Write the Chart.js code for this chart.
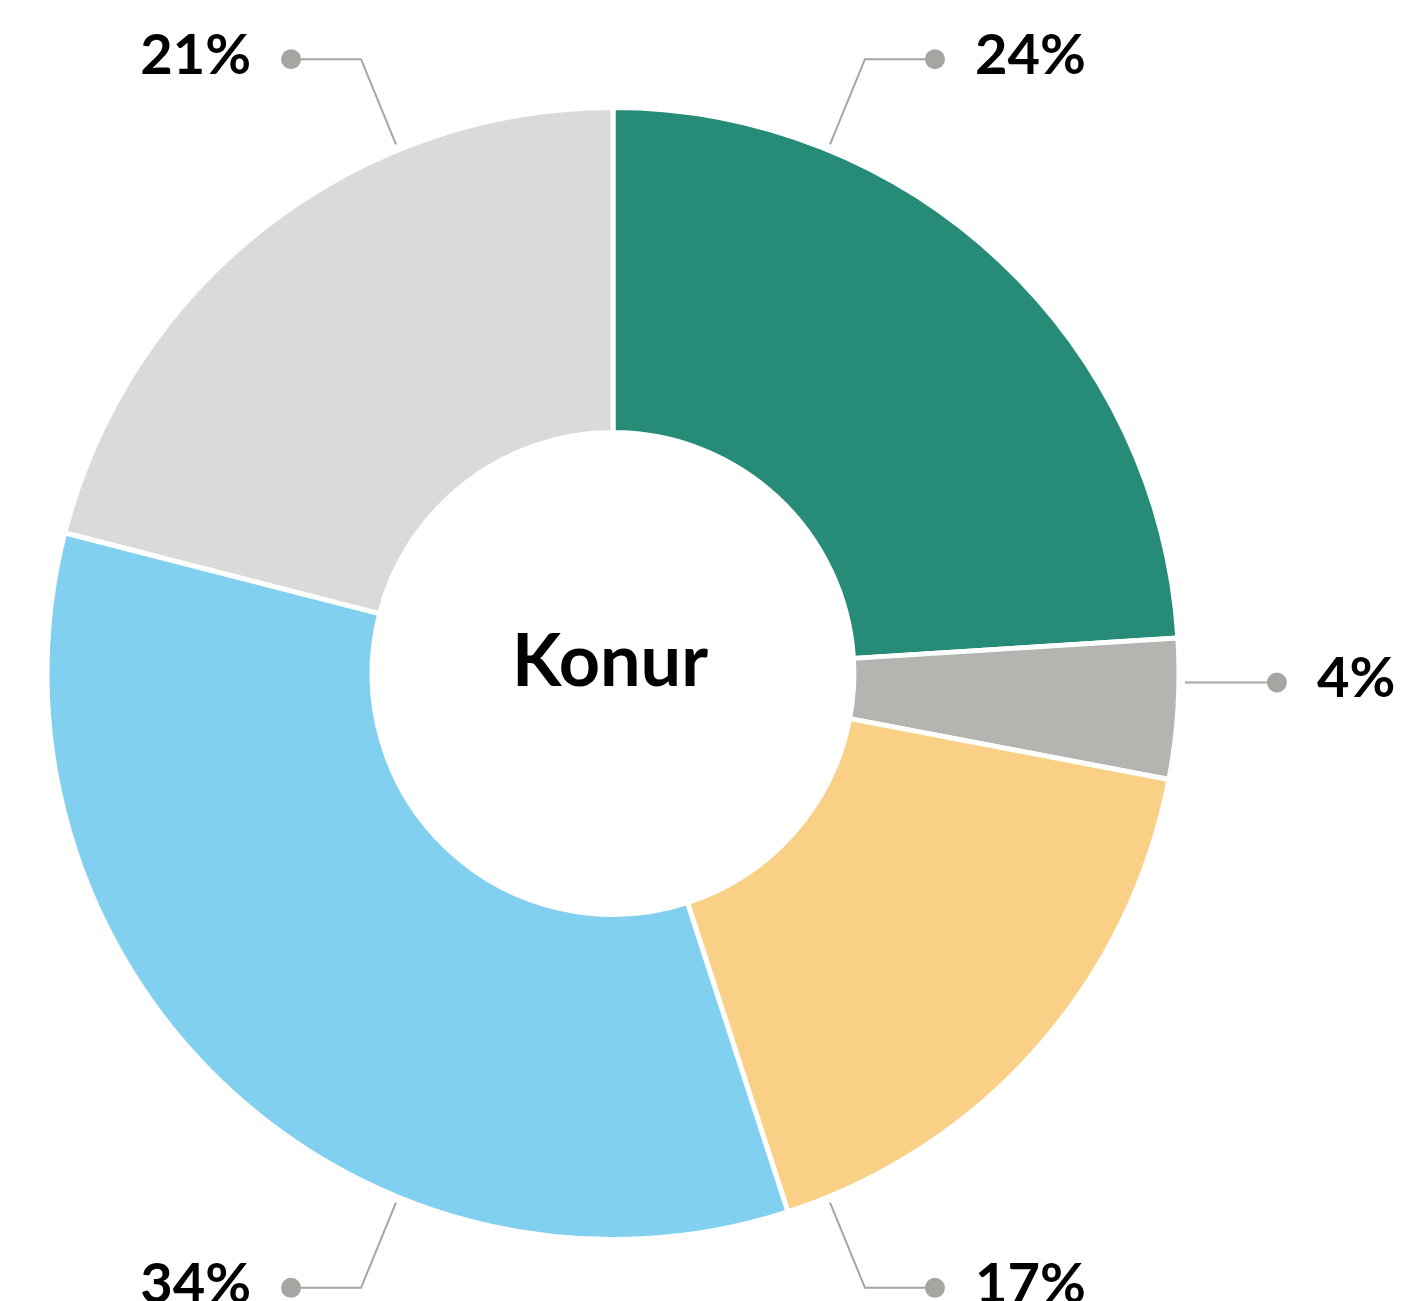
<!DOCTYPE html>
<html>
<head>
<meta charset="utf-8">
<script src="https://cdn.jsdelivr.net/npm/chart.js@4.4.1/dist/chart.umd.min.js"></script>
<style>
  body { margin: 0; background: #fff; }
  #wrap { width: 1401px; height: 1301px; position: relative; }
</style>
</head>
<body>
<div id="wrap"><canvas id="donutChart"></canvas></div>
<script>
const segmentLabels = ['24%', '4%', '17%', '34%', '21%'];
const segmentValues = [24, 4, 17, 34, 21];
const segmentColors = ['#268b77', '#b4b5b0', '#fad086', '#82d0ef', '#dadad8'];
const centerLabel = 'Konur';

// where each leader line leaves the ring, degrees clockwise from 12 o'clock
const calloutAngles = [22.3, 90.9, 157.7, 202.3, 337.7];
const calloutTails = [70, 0, 70, 70, 70];

const calloutPlugin = {
    id: 'callouts',
    afterDraw(chart) {
        const ctx = chart.ctx;
        const arcs = chart.getDatasetMeta(0).data;
        ctx.save();
        arcs.forEach((arc, i) => {
            const a = calloutAngles[i] * Math.PI / 180;
            const r0 = arc.outerRadius + 6;
            const r1 = arc.outerRadius + 98;
            const sx = arc.x + Math.sin(a) * r0;
            const sy = arc.y - Math.cos(a) * r0;
            const kx = arc.x + Math.sin(a) * r1;
            // a line with no tail stays flat
            const ky = calloutTails[i] ? arc.y - Math.cos(a) * r1 : sy;
            const right = calloutAngles[i] < 180;
            const dx = kx + (right ? calloutTails[i] : -calloutTails[i]);
            ctx.strokeStyle = '#a5a6a1';
            ctx.lineWidth = 2;
            ctx.beginPath();
            ctx.moveTo(sx, sy);
            ctx.lineTo(kx, ky);
            ctx.lineTo(dx, ky);
            ctx.stroke();
            ctx.fillStyle = '#a5a6a1';
            ctx.beginPath();
            ctx.arc(dx, ky, 10, 0, Math.PI * 2);
            ctx.fill();
            ctx.fillStyle = '#000';
            ctx.font = 'bold 56px Lato';
            ctx.textBaseline = 'alphabetic';
            ctx.textAlign = right ? 'left' : 'right';
            ctx.fillText(segmentLabels[i], dx + (right ? 40 : -40), ky + 15);
        });
        const first = arcs[0];
        ctx.font = 'bold 72px Lato';
        ctx.textAlign = 'center';
        ctx.fillStyle = '#000';
        ctx.fillText(centerLabel, first.x - 3, first.y + 12);
        ctx.restore();
    }
};

const ctx = document.getElementById('donutChart');
const donutChart = new Chart(ctx, {
    type: 'doughnut',
    data: {
        labels: segmentLabels,
        datasets: [
            {
                data: segmentValues,
                backgroundColor: segmentColors,
                borderColor: '#ffffff',
                borderWidth: 5,
                hoverOffset: 0,
            },
        ],
    },
    options: {
        responsive: true,
        maintainAspectRatio: false,
        animation: false,
        radius: 566,
        cutout: 239,
        layout: {
            padding: { left: 49, right: 224, top: 109, bottom: 63 },
        },
        plugins: {
            legend: { display: false },
            tooltip: { enabled: false },
        },
    },
    plugins: [calloutPlugin],
});
</script>
</body>
</html>
